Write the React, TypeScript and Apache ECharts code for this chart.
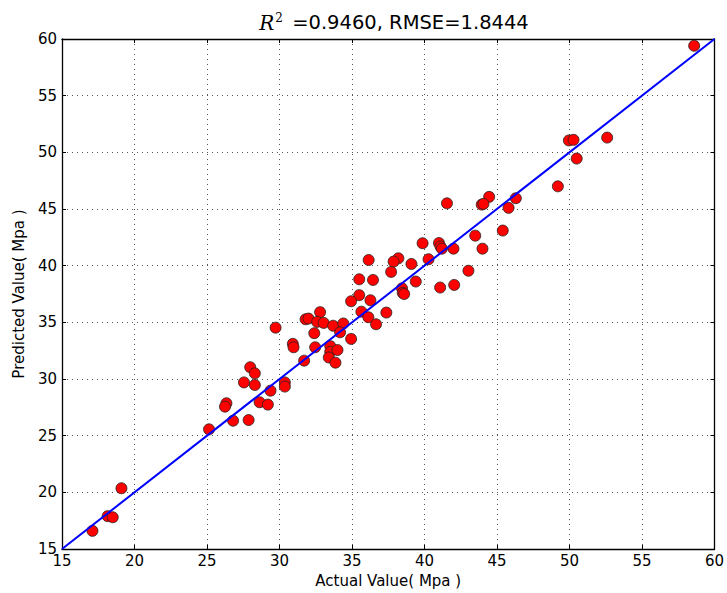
import React, { useEffect, useRef } from "react";
import * as echarts from "echarts";

const actual: number[] = [
  58.6, 49.96, 50.28, 52.6, 50.5, 49.2, 46.3, 45.8, 44.46, 43.95, 44.07, 41.55, 45.4, 43.5, 44.0, 42.0,
  41.0, 41.1, 41.2, 39.87, 40.28, 43.03, 38.2, 37.87, 39.1, 37.7, 39.4, 38.45, 38.5, 38.6, 41.08, 42.05,
  36.15, 35.5, 36.45, 35.5, 34.94, 36.27, 35.65, 37.37, 36.13, 36.66, 32.8, 31.8, 32.0, 32.6, 33.05, 33.7,
  34.4, 34.18, 32.4, 34.94, 32.46, 33.5, 33.5, 34.0, 33.4, 33.86, 31.7, 29.73, 30.92, 30.97, 27.98, 28.3,
  27.55, 28.3, 30.37, 30.37, 29.38, 28.63, 29.2, 26.34, 26.24, 26.8, 27.87, 25.14, 19.1, 18.15, 18.5, 17.1,
];
const predicted: number[] = [
  59.4, 51.05, 51.1, 51.3, 49.45, 47.0, 45.95, 45.1, 46.07, 45.39, 45.45, 45.5, 43.1, 42.65, 41.5, 41.5,
  42.0, 41.7, 41.5, 41.98, 40.57, 39.55, 40.65, 40.36, 40.15, 39.45, 38.6, 38.0, 37.6, 37.5, 38.07, 38.3,
  40.5, 38.8, 38.74, 37.4, 36.86, 36.95, 35.94, 35.86, 35.45, 34.83, 35.9, 35.27, 35.33, 35.04, 34.95, 34.7,
  34.9, 34.12, 34.04, 33.54, 32.8, 32.9, 32.4, 32.56, 31.9, 31.44, 31.62, 34.53, 33.1, 32.8, 31.04, 30.5,
  29.7, 29.47, 29.7, 29.33, 28.97, 27.95, 27.74, 27.86, 27.56, 26.32, 26.38, 25.56, 20.36, 17.9, 17.8, 16.6,
];
const fitLine: number[][] = [
  [15, 15],
  [60, 60],
];
const axisMin = 15;
const axisMax = 60;
const tickStep = 5;
const titleR2 = "0.9460";
const titleRMSE = "1.8444";
const xName = "Actual Value( Mpa )";
const yName = "Predicted Value( Mpa )";

export default function App() {
  const ref = useRef<HTMLDivElement>(null);
  useEffect(() => {
    if (!ref.current) return;
    const chart = echarts.init(ref.current, undefined, { renderer: "svg" });
    const font = "DejaVu Sans";
    const gridLine = { show: true, lineStyle: { color: "#555", width: 1, type: [1, 4] as any } };
    const tick = { show: true, inside: true, length: 4, lineStyle: { color: "#000", width: 1 } };
    const line = { show: true, onZero: false, lineStyle: { color: "#000", width: 1.3 } };
    const base = { type: "value" as const, min: axisMin, max: axisMax, interval: tickStep };
    chart.setOption({
      animation: false,
      backgroundColor: "#fff",
      title: {
        text: "{r|R}{s|2} =" + titleR2 + ", RMSE=" + titleRMSE,
        left: 389,
        top: 7,
        textAlign: "center",
        textStyle: {
          fontFamily: font,
          fontSize: 19.5,
          fontWeight: "normal",
          color: "#000",
          rich: {
            r: { fontFamily: "DejaVu Serif", fontStyle: "italic", fontSize: 20, color: "#000" },
            s: { fontFamily: "DejaVu Serif", fontSize: 12, color: "#000", verticalAlign: "top", padding: [0, 3, 9, 1] },
          },
        },
      },
      grid: { left: 62, right: 11, top: 39, bottom: 44, containLabel: false },
      xAxis: [
        {
          ...base,
          position: "bottom",
          name: xName,
          nameLocation: "middle",
          nameGap: 24,
          nameTextStyle: { fontFamily: font, fontSize: 15, color: "#000" },
          axisLine: line,
          axisTick: tick,
          splitLine: gridLine,
          axisLabel: { fontFamily: font, fontSize: 15, color: "#000", margin: 4 },
        },
        {
          ...base,
          position: "top",
          axisLine: line,
          axisTick: tick,
          splitLine: { show: false },
          axisLabel: { show: false },
        },
      ],
      yAxis: [
        {
          ...base,
          position: "left",
          name: yName,
          nameLocation: "middle",
          nameGap: 36,
          nameTextStyle: { fontFamily: font, fontSize: 15, color: "#000" },
          axisLine: line,
          axisTick: tick,
          splitLine: gridLine,
          axisLabel: { fontFamily: font, fontSize: 15, color: "#000", margin: 5 },
        },
        {
          ...base,
          position: "right",
          axisLine: line,
          axisTick: tick,
          splitLine: { show: false },
          axisLabel: { show: false },
        },
      ],
      series: [
        {
          type: "scatter",
          data: actual.map((a, i) => [a, predicted[i]]),
          symbol: "circle",
          symbolSize: 11,
          itemStyle: { color: "#ff0000", borderColor: "#222", borderWidth: 0.8, opacity: 1 },
          z: 2,
        },
        {
          type: "line",
          data: fitLine,
          showSymbol: false,
          symbol: "none",
          lineStyle: { color: "#0000ff", width: 2 },
          z: 3,
        },
      ],
    });
    return () => chart.dispose();
  }, []);
  return <div ref={ref} style={{ position: "fixed", left: 0, top: 0, width: 727, height: 593 }} />;
}
